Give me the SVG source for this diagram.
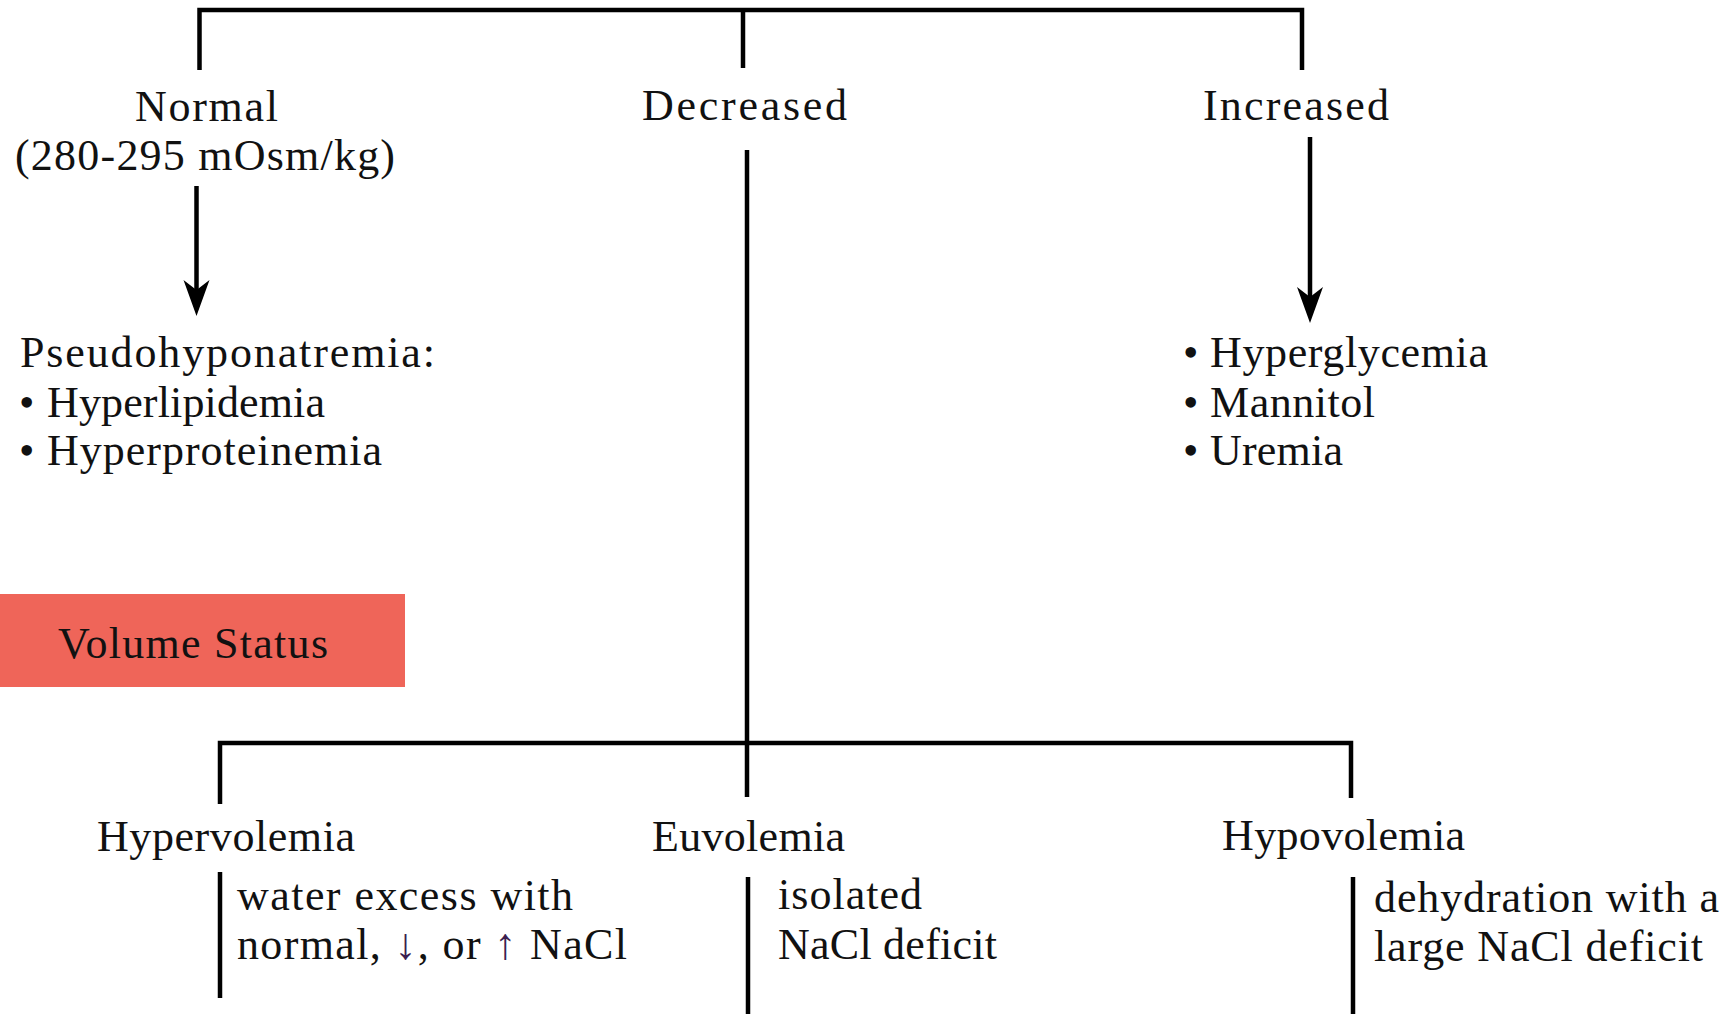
<svg xmlns="http://www.w3.org/2000/svg" width="1727" height="1014" viewBox="0 0 1727 1014">
<style>
.t{font-family:"Liberation Serif","Times New Roman",serif;font-size:44px;fill:#111;}
.c{fill:none;stroke:#000;stroke-width:4.5;stroke-linejoin:miter;stroke-linecap:butt;}
.h{fill:#000;stroke:none;}
.ar{fill:#3c1f4f;}
</style>
<defs>
<path id="head" d="M-13,-36 L0,0 L13,-36 L0,-26 Z"/>
</defs>
<rect width="1727" height="1014" fill="#fff"/>
<g id="connectors">
<path class="c" d="M199.5,70 V10 H1302 V70"/>
<path class="c" d="M743,10 V68"/>
<path class="c" d="M196.5,186 V292"/>
<use href="#head" class="h" x="196.5" y="316"/>
<path class="c" d="M1310,137 V298"/>
<use href="#head" class="h" x="1310" y="323"/>
<path class="c" d="M747,150 V797"/>
<path class="c" d="M220,804 V743 H1351 V798"/>
<path class="c" d="M220,872 V998"/>
<path class="c" d="M748,877 V1014"/>
<path class="c" d="M1353,877 V1014"/>
</g>
<g id="normal">
<text class="t" x="135" y="121" textLength="143" lengthAdjust="spacing">Normal</text>
<text class="t" x="15" y="170" textLength="380" lengthAdjust="spacing">(280-295 mOsm/kg)</text>
</g>
<g id="decreased">
<text class="t" x="642" y="120" textLength="205" lengthAdjust="spacing">Decreased</text>
</g>
<g id="increased">
<text class="t" x="1203" y="120" textLength="186" lengthAdjust="spacing">Increased</text>
</g>
<g id="pseudohyponatremia">
<text class="t" x="20" y="367" textLength="415" lengthAdjust="spacing">Pseudohyponatremia:</text>
<text class="t" x="19" y="417">•</text>
<text class="t" x="47" y="417" textLength="278" lengthAdjust="spacing">Hyperlipidemia</text>
<text class="t" x="19" y="465">•</text>
<text class="t" x="47" y="465" textLength="335" lengthAdjust="spacing">Hyperproteinemia</text>
</g>
<g id="increased-causes">
<text class="t" x="1183" y="367">•</text>
<text class="t" x="1210" y="367" textLength="278" lengthAdjust="spacing">Hyperglycemia</text>
<text class="t" x="1183" y="417">•</text>
<text class="t" x="1210" y="417" textLength="165" lengthAdjust="spacing">Mannitol</text>
<text class="t" x="1183" y="465">•</text>
<text class="t" x="1210" y="465" textLength="133" lengthAdjust="spacing">Uremia</text>
</g>
<g id="volume-status">
<rect x="0" y="594" width="405" height="93" fill="#EF6559"/>
<text class="t" x="58" y="658" textLength="270" lengthAdjust="spacing">Volume Status</text>
</g>
<g id="hypervolemia">
<text class="t" x="97" y="851" textLength="258" lengthAdjust="spacing">Hypervolemia</text>
<text class="t" x="237" y="910" textLength="336" lengthAdjust="spacing">water excess with</text>
<text class="t" x="237" y="959" textLength="390" lengthAdjust="spacing">normal, <tspan class="ar">↓</tspan>, or <tspan class="ar">↑</tspan> NaCl</text>
</g>
<g id="euvolemia">
<text class="t" x="652" y="851" textLength="193" lengthAdjust="spacing">Euvolemia</text>
<text class="t" x="778" y="909" textLength="144" lengthAdjust="spacing">isolated</text>
<text class="t" x="778" y="959" textLength="219" lengthAdjust="spacing">NaCl deficit</text>
</g>
<g id="hypovolemia">
<text class="t" x="1222" y="850" textLength="243" lengthAdjust="spacing">Hypovolemia</text>
<text class="t" x="1374" y="912" textLength="345" lengthAdjust="spacing">dehydration with a</text>
<text class="t" x="1374" y="961" textLength="329" lengthAdjust="spacing">large NaCl deficit</text>
</g>
</svg>
